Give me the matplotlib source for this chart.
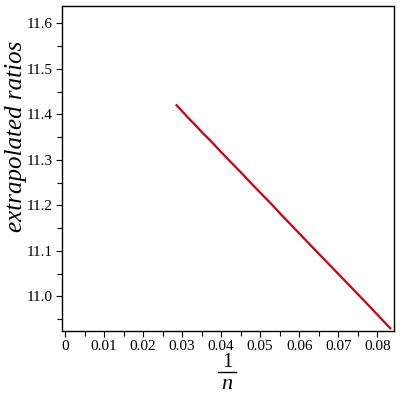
import matplotlib
matplotlib.use('Agg')
import matplotlib.pyplot as plt
from matplotlib.lines import Line2D
from matplotlib.ticker import MultipleLocator

plt.rcParams['font.family'] = ['Liberation Serif', 'DejaVu Serif']

# %% Data (x = 1/n, n = 35 .. 12)
inv_n = [0.02857, 0.02941, 0.03030, 0.03125, 0.03226, 0.03333, 0.03448,
         0.03571, 0.03704, 0.03846, 0.04000, 0.04167, 0.04348, 0.04545,
         0.04762, 0.05000, 0.05263, 0.05556, 0.05882, 0.06250, 0.06667,
         0.07143, 0.07692, 0.08333]
ratios = [11.420, 11.412, 11.404, 11.395, 11.386, 11.377, 11.366,
          11.355, 11.344, 11.331, 11.317, 11.302, 11.286, 11.269,
          11.249, 11.228, 11.205, 11.178, 11.149, 11.116, 11.079,
          11.037, 10.988, 10.930]

xticks = [0, 0.01, 0.02, 0.03, 0.04, 0.05, 0.06, 0.07, 0.08]
xtick_labels = ['0', '0.01', '0.02', '0.03', '0.04', '0.05', '0.06', '0.07', '0.08']
yticks = [11.0, 11.1, 11.2, 11.3, 11.4, 11.5, 11.6]
ytick_labels = ['11.0', '11.1', '11.2', '11.3', '11.4', '11.5', '11.6']

# %% Plot
fig = plt.figure(figsize=(4, 4), dpi=100)
ax = fig.add_axes([0.155, 0.1725, 0.83, 0.8125])

ax.plot(inv_n, ratios, color='#cc0010', linewidth=1.6)

ax.set_xlim(-0.0008, 0.0843)
ax.set_ylim(10.924, 11.638)

ax.set_xticks(xticks)
ax.set_xticklabels(xtick_labels)
ax.set_yticks(yticks)
ax.set_yticklabels(ytick_labels)
ax.xaxis.set_minor_locator(MultipleLocator(0.005))
ax.yaxis.set_minor_locator(MultipleLocator(0.05))

ax.tick_params(which='major', direction='out', length=4.5, width=0.8,
               labelsize=11, pad=2, colors='black')
ax.tick_params(which='minor', direction='out', length=3.5, width=0.8)
ax.tick_params(top=False, right=False)
for s in ax.spines.values():
    s.set_linewidth(1.0)

# y label sits above the axes centre, as in Maple output
ax.set_ylabel('extrapolated ratios', fontsize=18, style='italic')
ax.yaxis.set_label_coords(-0.105, 0.60)

# x label drawn as a stacked fraction 1/n
ax.text(0.497, -0.098, '1', transform=ax.transAxes, fontsize=15,
        ha='center', va='center')
ax.add_line(Line2D([0.47, 0.524], [-0.126, -0.126], transform=ax.transAxes,
                   color='black', linewidth=1.0, clip_on=False))
ax.text(0.497, -0.166, 'n', transform=ax.transAxes, fontsize=16,
        style='italic', ha='center', va='center')

plt.savefig('out.png', dpi=100)
